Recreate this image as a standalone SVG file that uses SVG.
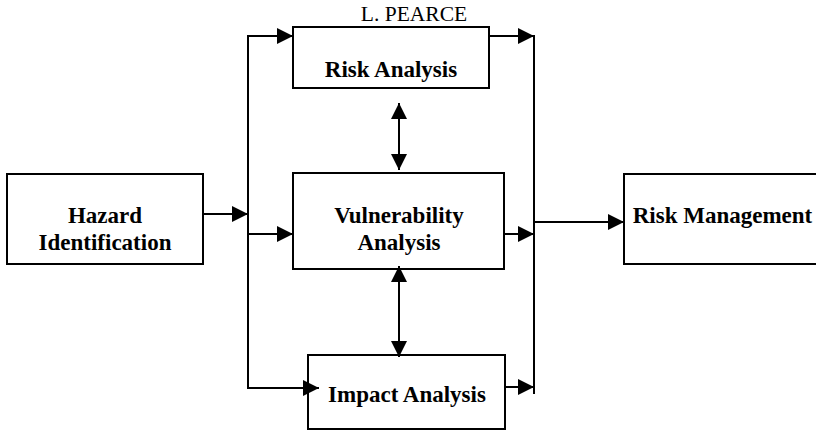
<svg xmlns="http://www.w3.org/2000/svg" width="816" height="431" viewBox="0 0 816 431">
<style>
.box{fill:#fff;stroke:#000;stroke-width:2}
.lbl{font-family:"Liberation Serif","Times New Roman",serif;font-weight:bold;font-size:23px;fill:#000;text-anchor:middle}
.ttl{font-family:"Liberation Serif","Times New Roman",serif;font-size:21.5px;fill:#000;text-anchor:middle}
.c{fill:none;stroke:#000;stroke-width:2}
</style>
<defs>
<marker id="ah" markerUnits="userSpaceOnUse" markerWidth="16" markerHeight="16" refX="16" refY="8" orient="auto-start-reverse" viewBox="0 0 16 16">
<path d="M0,0 L16,8 L0,16 z" fill="#000"/>
</marker>
</defs>
<rect width="816" height="431" fill="#fff"/>
<text class="ttl" x="414" y="21">L. PEARCE</text>
<g id="connectors">
<line class="c" x1="203" y1="214" x2="248" y2="214" marker-end="url(#ah)"/>
<line class="c" x1="248" y1="35" x2="248" y2="389"/>
<line class="c" x1="247" y1="36" x2="293" y2="36" marker-end="url(#ah)"/>
<line class="c" x1="248" y1="234" x2="293" y2="234" marker-end="url(#ah)"/>
<line class="c" x1="247" y1="388" x2="319" y2="388" marker-end="url(#ah)"/>
<line class="c" x1="489" y1="36" x2="534" y2="36" marker-end="url(#ah)"/>
<line class="c" x1="504" y1="234" x2="534" y2="234" marker-end="url(#ah)"/>
<line class="c" x1="505" y1="387" x2="534" y2="387" marker-end="url(#ah)"/>
<line class="c" x1="534" y1="35" x2="534" y2="394"/>
<line class="c" x1="534" y1="222" x2="624" y2="222" marker-end="url(#ah)"/>
<line class="c" x1="399" y1="103" x2="399" y2="170" marker-start="url(#ah)" marker-end="url(#ah)"/>
<line class="c" x1="399" y1="266" x2="399" y2="357" marker-start="url(#ah)" marker-end="url(#ah)"/>
</g>
<g id="hazard">
<rect class="box" x="7" y="174" width="196" height="90"/>
<text class="lbl" x="105" y="223">Hazard</text>
<text class="lbl" x="105" y="250">Identification</text>
</g>
<g id="risk-analysis">
<rect class="box" x="293" y="27" width="196" height="61" fill-opacity="0"/>
<text class="lbl" x="391" y="77">Risk Analysis</text>
</g>
<g id="vulnerability">
<rect class="box" x="293" y="173" width="211" height="96" fill-opacity="0"/>
<text class="lbl" x="399" y="223">Vulnerability</text>
<text class="lbl" x="399" y="250">Analysis</text>
</g>
<g id="impact">
<rect class="box" x="308" y="355" width="197" height="74" fill-opacity="0"/>
<text class="lbl" x="407" y="402">Impact Analysis</text>
</g>
<g id="risk-management">
<rect class="box" x="624" y="174" width="196" height="90"/>
<text class="lbl" x="722.5" y="223">Risk Management</text>
</g>
</svg>
